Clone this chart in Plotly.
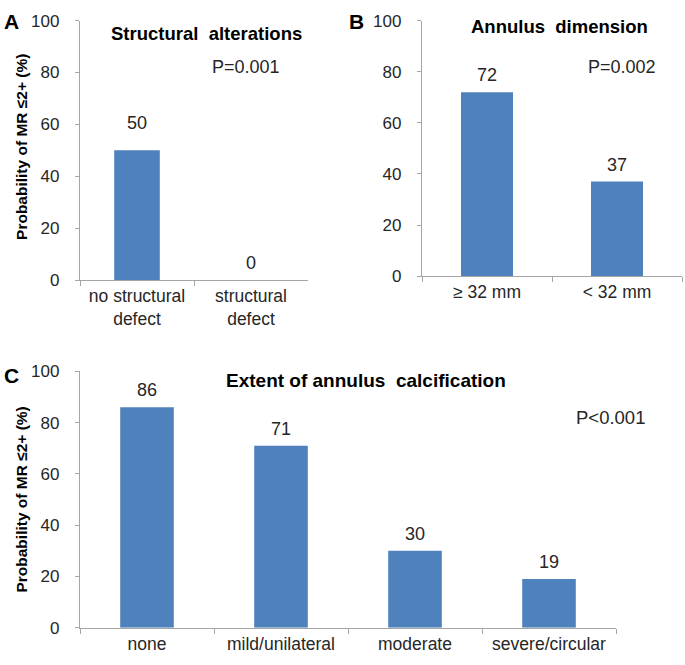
import plotly.graph_objects as go

# Panel A
cat_a = ["no structural<br>defect", "structural<br>defect"]
val_a = [50, 0]
# Panel B
cat_b = ["≥ 32 mm", "< 32 mm"]
val_b = [72, 37]
# Panel C
cat_c = ["none", "mild/unilateral", "moderate", "severe/circular"]
val_c = [86, 71, 30, 19]

y_ticks = [0, 20, 40, 60, 80, 100]

BAR = "#4f81bd"
AXC = "#a6a6a6"
TXT = "#262626"
FONT = "Liberation Sans, Arial, sans-serif"

W, H = 685, 665


def px_x(p):
    return p / W


def px_y(p):
    return 1 - p / H


fig = go.Figure()


def add_bar(cats, vals, xa, ya, shifts=None):
    fig.add_trace(go.Bar(
        x=cats, y=vals, xaxis=xa, yaxis=ya,
        marker=dict(color=BAR, line=dict(width=0)),
        showlegend=False, width=0.4, hoverinfo="x+y",
    ))
    for i, (c, v) in enumerate(zip(cats, vals)):
        fig.add_annotation(
            x=c, y=v, xref=xa, yref=ya, text=str(v), showarrow=False,
            yanchor="middle", yshift=(shifts[i] if shifts else 17),
            font=dict(size=18, color=TXT, family=FONT),
        )


add_bar(cat_a, val_a, "x", "y", shifts=[27, 17])
add_bar(cat_b, val_b, "x2", "y2")
add_bar(cat_c, val_c, "x3", "y3")


def xax(domain, anchor):
    return dict(domain=domain, anchor=anchor, showline=True, linecolor=AXC, linewidth=1.3,
                ticks="outside", tickson="boundaries", ticklen=5, tickcolor=AXC, tickwidth=1.3,
                tickfont=dict(size=17.5, color=TXT, family=FONT), showgrid=False,
                zeroline=False, fixedrange=True)


def yax(domain, anchor):
    return dict(domain=domain, anchor=anchor, range=[0, 100], tickvals=y_ticks,
                showline=True, linecolor=AXC, linewidth=1.3, ticks="outside", ticklen=4,
                tickwidth=1.3, tickcolor=AXC, ticklabelstandoff=12,
                tickfont=dict(size=17, color=TXT, family=FONT),
                showgrid=False, zeroline=False, fixedrange=True)


fig.update_layout(
    width=W, height=H, margin=dict(l=0, r=0, t=0, b=0),
    paper_bgcolor="white", plot_bgcolor="white",
    xaxis=xax([px_x(80), px_x(308)], "y"),
    yaxis=yax([px_y(279), px_y(12)], "x"),
    xaxis2=xax([px_x(422), px_x(682)], "y2"),
    yaxis2=yax([px_y(275), px_y(12)], "x2"),
    xaxis3=xax([px_x(80), px_x(616)], "y3"),
    yaxis3=yax([px_y(637), px_y(373)], "x3"),
    font=dict(family=FONT, color=TXT),
)


def ann(text, x, y, size=18, bold=False, angle=0, xanchor="center"):
    fig.add_annotation(
        text=f"<b>{text}</b>" if bold else text,
        x=px_x(x), y=px_y(y), xref="paper", yref="paper",
        showarrow=False, textangle=angle, xanchor=xanchor, yanchor="middle",
        font=dict(size=size, color="#000000" if bold else TXT, family=FONT),
    )


# panel letters
ann("A", 11, 13, size=21, bold=True)
ann("B", 356, 13, size=21, bold=True)
ann("C", 11, 377, size=21, bold=True)

# titles
ann("Structural  alterations", 206, 25, size=18.5, bold=True)
ann("Annulus  dimension", 559, 18, size=18.5, bold=True)
ann("Extent of annulus  calcification", 366, 382, size=19, bold=True)

# p-values
ann("P=0.001", 246, 60)
ann("P=0.002", 622, 60)
ann("P<0.001", 610, 420, size=18.5)

# y-axis titles
ann("Probability of MR ≤2+ (%)", 22, 142, size=15.5, bold=True, angle=-90)
ann("Probability of MR ≤2+ (%)", 22, 505, size=15.5, bold=True, angle=-90)

fig.write_html(
    "out.html",
    config={"displayModeBar": False},
    post_script="document.body.style.margin='0px';document.body.style.padding='0px';"
                "document.body.style.overflow='hidden';",
)
